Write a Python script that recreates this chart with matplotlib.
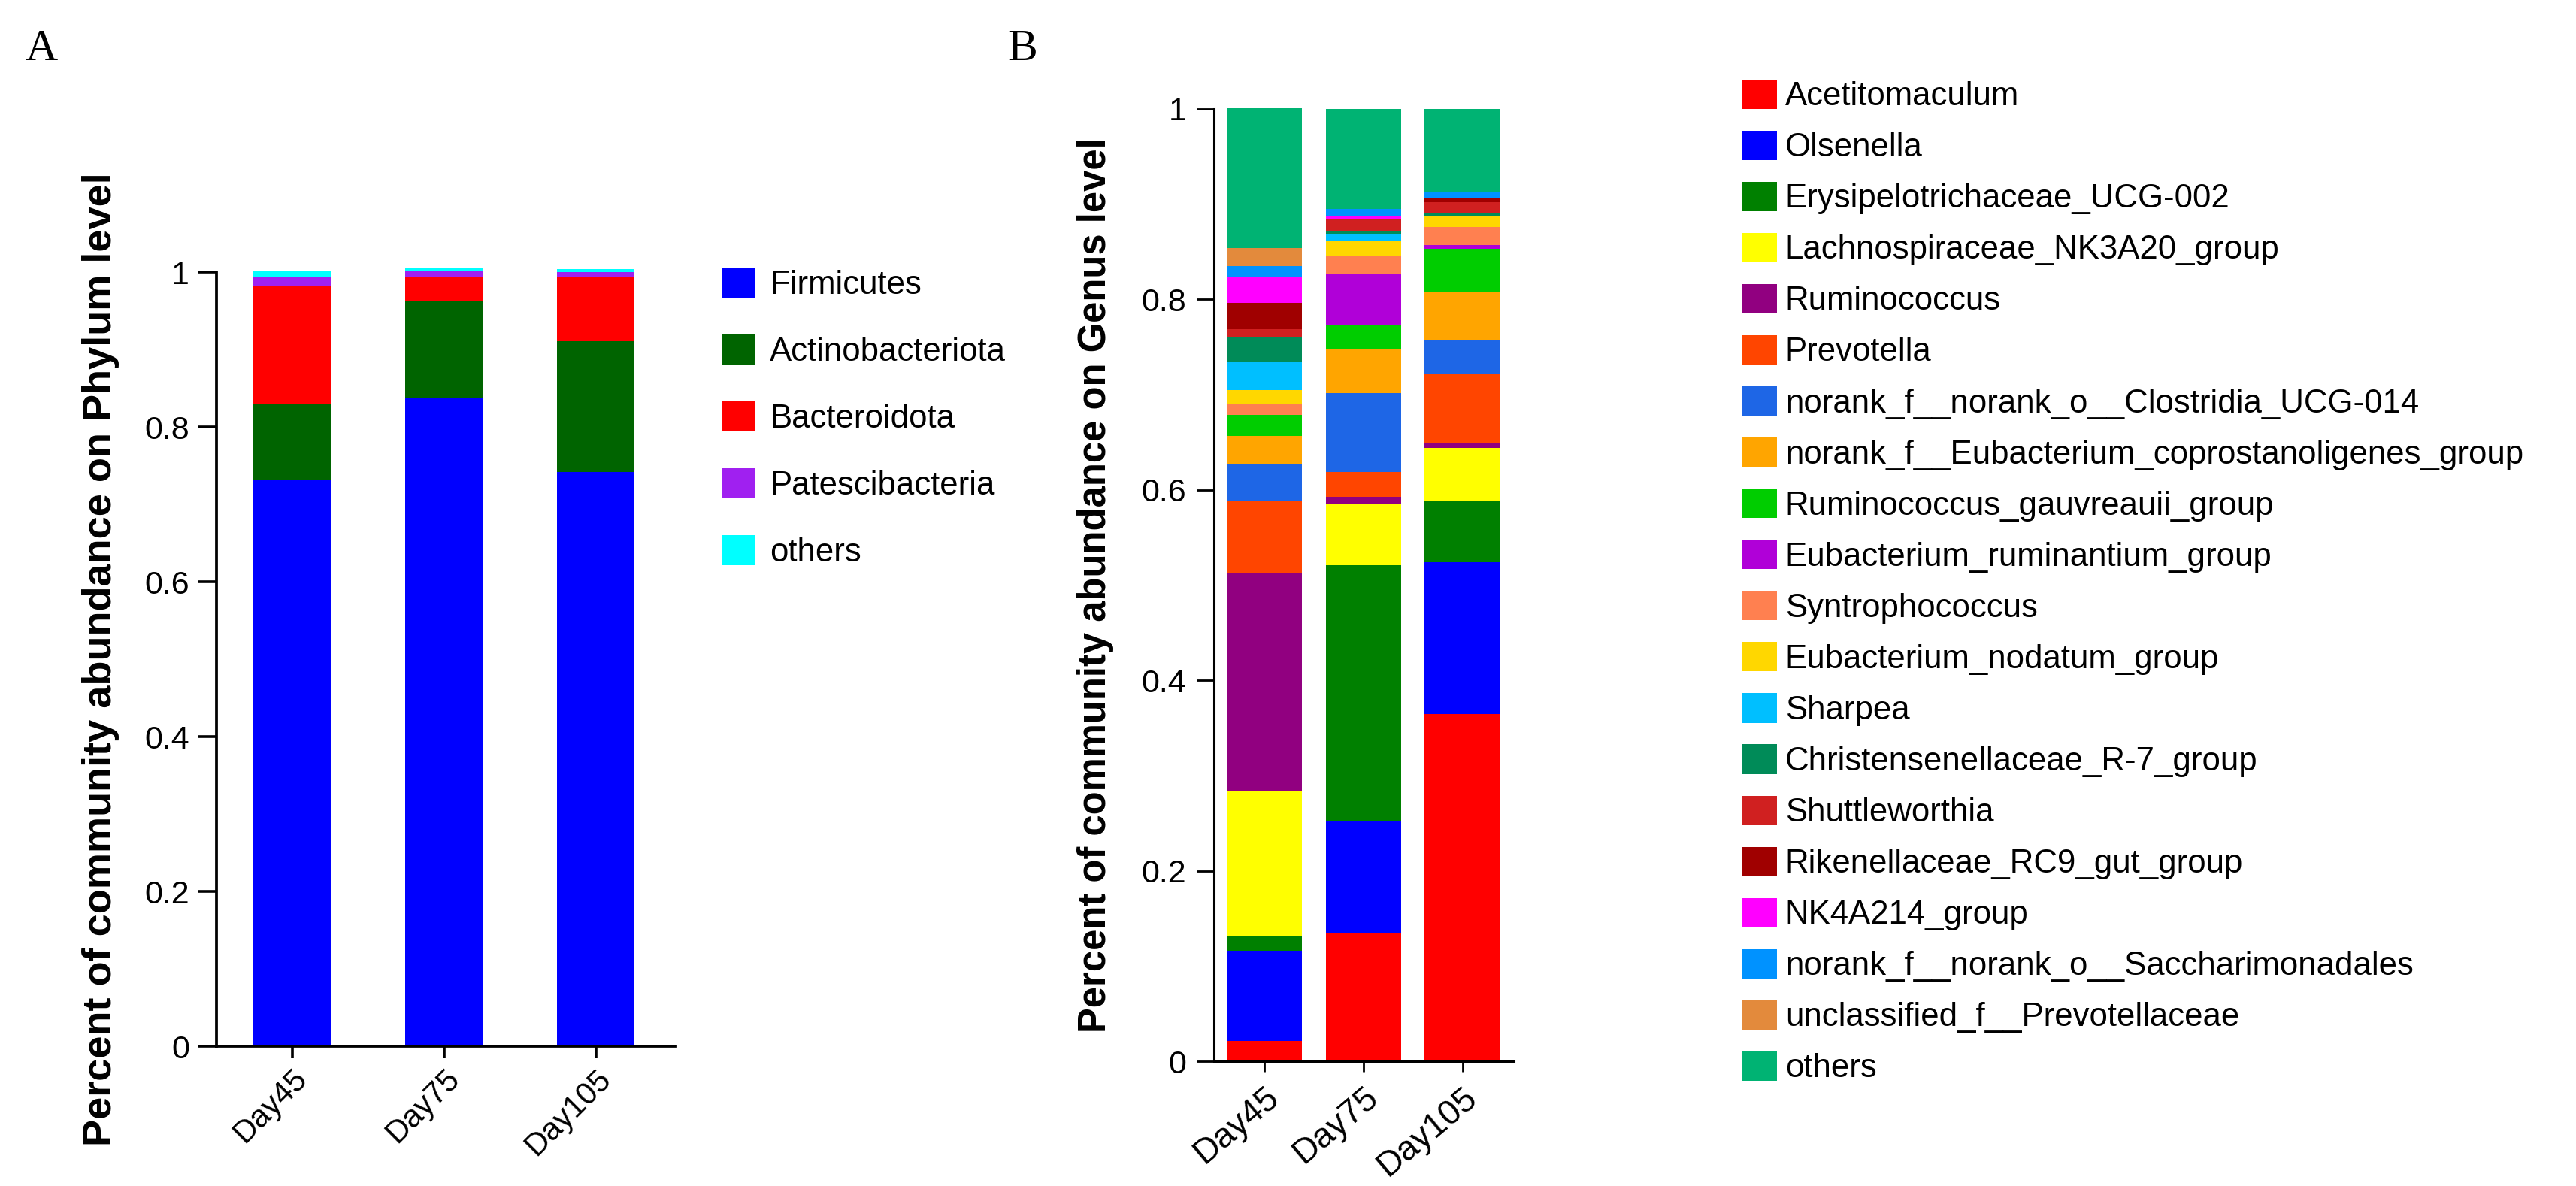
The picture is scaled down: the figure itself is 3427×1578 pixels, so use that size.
import numpy as np
import matplotlib as mpl
mpl.use('Agg')
import matplotlib.pyplot as plt

# ---- data: phylum level (panel A) ----
days = ['Day45', 'Day75', 'Day105']

phylum_names = ['Firmicutes', 'Actinobacteriota', 'Bacteroidota', 'Patescibacteria', 'others']
firmicutes = [0.731, 0.837, 0.742]
actinobacteriota = [0.098, 0.125, 0.169]
bacteroidota = [0.153, 0.032, 0.082]
patescibacteria = [0.011, 0.007, 0.007]
others_phylum = [0.008, 0.004, 0.004]
phylum_colors = ['#0000FF', '#006400', '#FF0000', '#A020F0', '#00FFFF']

# ---- data: genus level (panel B) ----
genus_names = ['Acetitomaculum', 'Olsenella', 'Erysipelotrichaceae_UCG-002',
               'Lachnospiraceae_NK3A20_group', 'Ruminococcus', 'Prevotella',
               'norank_f__norank_o__Clostridia_UCG-014',
               'norank_f__Eubacterium_coprostanoligenes_group',
               'Ruminococcus_gauvreauii_group', 'Eubacterium_ruminantium_group',
               'Syntrophococcus', 'Eubacterium_nodatum_group', 'Sharpea',
               'Christensenellaceae_R-7_group', 'Shuttleworthia',
               'Rikenellaceae_RC9_gut_group', 'NK4A214_group',
               'norank_f__norank_o__Saccharimonadales',
               'unclassified_f__Prevotellaceae', 'others']
acetitomaculum = [0.021, 0.135, 0.365]
olsenella = [0.095, 0.117, 0.159]
erysipelotrichaceae = [0.015, 0.269, 0.065]
lachnospiraceae = [0.152, 0.064, 0.055]
ruminococcus = [0.230, 0.008, 0.005]
prevotella = [0.076, 0.026, 0.073]
clostridia_ucg014 = [0.038, 0.083, 0.036]
coprostanoligenes = [0.030, 0.046, 0.050]
gauvreauii = [0.022, 0.025, 0.045]
ruminantium = [0.000, 0.054, 0.004]
syntrophococcus = [0.011, 0.019, 0.019]
nodatum = [0.015, 0.016, 0.012]
sharpea = [0.030, 0.007, 0.000]
christensenellaceae = [0.026, 0.003, 0.003]
shuttleworthia = [0.008, 0.012, 0.011]
rikenellaceae = [0.027, 0.000, 0.004]
nk4a214 = [0.027, 0.004, 0.000]
saccharimonadales = [0.012, 0.007, 0.007]
uncl_prevotellaceae = [0.019, 0.000, 0.000]
others_genus = [0.147, 0.105, 0.087]
genus_colors = ['#FF0000', '#0000FF', '#008000', '#FFFF00', '#910080', '#FF4500',
                '#1E66E6', '#FFA500', '#00CD00', '#B000D8', '#FF8050', '#FFD700',
                '#00BFFF', '#008B58', '#D02020', '#A00000', '#FF00FF', '#0092FF',
                '#E38A3C', '#00B373']

phylum_values = [firmicutes, actinobacteriota, bacteroidota, patescibacteria, others_phylum]
genus_values = [acetitomaculum, olsenella, erysipelotrichaceae, lachnospiraceae,
                ruminococcus, prevotella, clostridia_ucg014, coprostanoligenes,
                gauvreauii, ruminantium, syntrophococcus, nodatum, sharpea,
                christensenellaceae, shuttleworthia, rikenellaceae, nk4a214,
                saccharimonadales, uncl_prevotellaceae, others_genus]

W, H, DPI = 3427, 1578, 100
yticks = [0, 0.2, 0.4, 0.6, 0.8, 1.0]
ytick_labels = ['0', '0.2', '0.4', '0.6', '0.8', '1']


def fig_xy(px, py):
    return px / W, 1 - py / H


def stacked(ax, names, values, colors, width):
    x = np.arange(len(days))
    bottom = np.zeros(len(days))
    for name, vals, col in zip(names, values, colors):
        vals = np.asarray(vals)
        ax.bar(x, vals, width, bottom=bottom, color=col, label=name,
               linewidth=0, clip_on=False)
        bottom += vals
    return x


def style_axes(ax, spine_w):
    for s in ['top', 'right']:
        ax.spines[s].set_visible(False)
    for s in ['left', 'bottom']:
        ax.spines[s].set_linewidth(spine_w)
    ax.set_ylim(0, 1)
    ax.set_yticks(yticks, ytick_labels)


def main():
    plt.rcParams['font.family'] = ['Liberation Sans', 'DejaVu Sans']
    fig = plt.figure(figsize=(W / DPI, H / DPI), dpi=DPI)

    # panel A
    axA = fig.add_axes([288 / W, (H - 1392) / H, (898 - 288) / W, (1392 - 362) / H])
    x = stacked(axA, phylum_names, phylum_values, phylum_colors, 0.51)
    style_axes(axA, 2.7)
    axA.set_xlim(-0.5, 2.52)
    axA.set_xticks(x, days, rotation=45, ha='right', va='top', rotation_mode='anchor')
    axA.tick_params(axis='y', length=18, width=2.6, pad=8, labelsize=31)
    axA.tick_params(axis='x', length=11.5, width=2.6, pad=5, labelsize=30)
    axA.set_ylabel('Percent of community abundance on Phylum level',
                   fontsize=39, fontweight='bold')
    axA.yaxis.set_label_coords((159 - 288) / 610, 0.5)
    axA.legend(loc='center left', bbox_to_anchor=fig_xy(960, 556),
               bbox_transform=fig.transFigure, frameon=False, fontsize=31.5,
               borderpad=0, borderaxespad=0, handlelength=1.03, handleheight=1.03,
               handletextpad=0.43, labelspacing=1.03)

    # panel B
    axB = fig.add_axes([1615 / W, (H - 1412) / H, (2014 - 1615) / W, (1412 - 145) / H])
    x = stacked(axB, genus_names, genus_values, genus_colors, 0.76)
    style_axes(axB, 2.2)
    axB.set_xlim(-0.51, 2.52)
    axB.set_xticks(x, days, rotation=40, ha='right', va='top', rotation_mode='anchor')
    axB.tick_params(axis='y', length=16.5, width=2.0, pad=10, labelsize=31)
    axB.tick_params(axis='x', length=10, width=2.0, pad=9, labelsize=33)
    axB.set_ylabel('Percent of community abundance on Genus level',
                   fontsize=36.5, fontweight='bold')
    axB.yaxis.set_label_coords((1482 - 1615) / 399, 0.5)
    axB.legend(loc='center left', bbox_to_anchor=fig_xy(2317, 774),
               bbox_transform=fig.transFigure, frameon=False, fontsize=31.5,
               borderpad=0, borderaxespad=0, handlelength=1.07, handleheight=1.0,
               handletextpad=0.25, labelspacing=0.56)

    # panel letters
    fig.text(*fig_xy(33, 80), 'A', family='Liberation Serif', fontsize=43, va='baseline')
    fig.text(*fig_xy(1340, 80), 'B', family='Liberation Serif', fontsize=43, va='baseline')

    fig.savefig('out.png', dpi=DPI)
    plt.close(fig)


if __name__ == '__main__':
    main()
